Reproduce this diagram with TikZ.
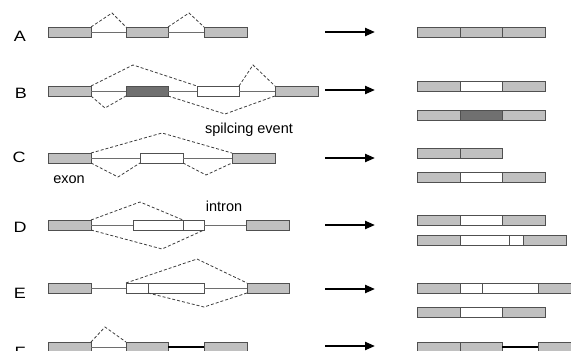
\documentclass[tikz,border=0pt]{standalone}
\usepackage{fontspec}
\setmainfont{Liberation Sans}
\usetikzlibrary{arrows.meta}
\definecolor{exongray}{RGB}{192,192,192}
\definecolor{exondark}{RGB}{112,112,112}
\definecolor{edgegray}{RGB}{80,80,80}
\definecolor{introngray}{RGB}{110,110,110}
\definecolor{splicegray}{RGB}{60,60,60}
\tikzset{
  exon/.style={draw=edgegray, line width=1pt, fill=exongray, minimum height=10pt,
    minimum width=#1, inner sep=0pt, outer sep=0pt, anchor=west},
  darkexon/.style={exon=#1, fill=exondark},
  altexon/.style={exon=#1, fill=white},
  intron/.style={draw=introngray, line width=0.9pt},
  boldintron/.style={draw=black, line width=1.3pt},
  splice/.style={draw=splicegray, line width=0.8pt, dash pattern=on 3pt off 2pt},
  flow/.style={line width=2.2pt, -{Triangle[length=10pt,width=8pt]}},
  rowlabel/.style={font=\fontsize{15}{15}\selectfont, xscale=1.2, inner sep=0pt},
  note/.style={font=\fontsize{14.5}{15}\selectfont, inner sep=0pt}
}
\begin{document}
\begin{tikzpicture}[x=1pt, y=-1pt]
\useasboundingbox (0,0) rectangle (571,351);
\clip (0,0) rectangle (571,351);

% row labels
\node[rowlabel] (lA) at (20,36) {A};
\node[rowlabel] (lB) at (21,93) {B};
\node[rowlabel] (lC) at (19,157) {C};
\node[rowlabel] (lD) at (20,227) {D};
\node[rowlabel] (lE) at (20,293) {E};
\node[rowlabel] (lF) at (20,352) {F};

% annotations
\node[note] (tev) at (249,130) {spilcing event};
\node[note] (tex) at (69,180) {exon};
\node[note] (tin) at (224,206) {intron};

% ---- A: constitutive exons
\node[exon=43pt] (a1) at (48,32) {};
\node[exon=42pt] (a2) at (126,32) {};
\node[exon=43pt] (a3) at (204,32) {};
\draw[intron] (a1.east) -- (a2.west);
\draw[intron] (a2.east) -- (a3.west);
\coordinate (pa1) at (112,13);
\coordinate (pa2) at (189,13);
\draw[splice] (a1.north east) -- (pa1) -- (a2.north west);
\draw[splice] (a2.north east) -- (pa2) -- (a3.north west);

% ---- B: mutually exclusive exons
\node[exon=43pt] (b1) at (48,91) {};
\node[darkexon=42pt] (b2) at (126,91) {};
\node[altexon=42pt] (b3) at (197,91) {};
\node[exon=43pt] (b4) at (275,91) {};
\draw[intron] (b1.east) -- (b2.west);
\draw[intron] (b2.east) -- (b3.west);
\draw[intron] (b3.east) -- (b4.west);
\coordinate (pb1) at (133,65);
\coordinate (pb2) at (105,108);
\coordinate (pb3) at (225,114);
\coordinate (pb4) at (253,65);
\draw[splice] (b1.north east) -- (pb1) -- (b3.north west);
\draw[splice] (b1.south east) -- (pb2) -- (b2.south west);
\draw[splice] (b2.south east) -- (pb3) -- (b4.south west);
\draw[splice] (b3.north east) -- (pb4) -- (b4.north west);

% ---- C: cassette exon
\node[exon=43pt] (c1) at (48,158) {};
\node[altexon=43pt] (c2) at (140,158) {};
\node[exon=43pt] (c3) at (232,158) {};
\draw[intron] (c1.east) -- (c2.west);
\draw[intron] (c2.east) -- (c3.west);
\coordinate (pc1) at (162,133);
\coordinate (pc2) at (118,177);
\coordinate (pc3) at (206,175);
\draw[splice] (c1.north east) -- (pc1) -- (c3.north west);
\draw[splice] (c1.south east) -- (pc2) -- (c2.south west);
\draw[splice] (c2.south east) -- (pc3) -- (c3.south west);

% ---- D: alternative 5' end
\node[exon=43pt] (d1) at (48,225) {};
\node[altexon=50pt] (d2) at (133,225) {};
\node[altexon=21pt] (d3) at (183,225) {};
\node[exon=43pt] (d4) at (246,225) {};
\draw[intron] (d1.east) -- (d2.west);
\draw[intron] (d3.east) -- (d4.west);
\coordinate (pd1) at (140,202);
\coordinate (pd2) at (162,249);
\draw[splice] (d1.north east) -- (pd1) -- (d2.north east);
\draw[splice] (d1.south east) -- (pd2) -- (d3.south east);

% ---- E: alternative 3' end
\node[exon=43pt] (e1) at (48,288) {};
\node[altexon=22pt] (e2) at (126,288) {};
\node[altexon=56pt] (e3) at (148,288) {};
\node[exon=42pt] (e4) at (247,288) {};
\draw[intron] (e1.east) -- (e2.west);
\draw[intron] (e3.east) -- (e4.west);
\coordinate (pe1) at (197,259);
\coordinate (pe2) at (204,307);
\draw[splice] (e2.north west) -- (pe1) -- (e4.north west);
\draw[splice] (e3.south west) -- (pe2) -- (e4.south west);

% ---- F: retained intron
\node[exon=43pt] (f1) at (48,347) {};
\node[exon=42pt] (f2) at (126,347) {};
\node[exon=43pt] (f3) at (204,347) {};
\draw[intron] (f1.east) -- (f2.west);
\draw[boldintron] (f2.east) -- (f3.west);
\coordinate (pf1) at (105,327);
\draw[splice] (f1.north east) -- (pf1) -- (f2.north west);

% ---- arrows
\foreach \r/\y in {A/32, B/90, C/158, D/225, E/289, F/346} {
  \coordinate (s\r) at (325,\y);
  \coordinate (t\r) at (375,\y);
  \draw[flow] (s\r) -- (t\r);
}

% ---- mature transcripts
\node[exon=43pt] (ra1) at (417,32) {};
\node[exon=42pt] (ra2) at (ra1.east) {};
\node[exon=43pt] (ra3) at (ra2.east) {};

\node[exon=43pt] (rb1) at (417,86) {};
\node[altexon=42pt] (rb2) at (rb1.east) {};
\node[exon=43pt] (rb3) at (rb2.east) {};
\node[exon=43pt] (rb4) at (417,115) {};
\node[darkexon=42pt] (rb5) at (rb4.east) {};
\node[exon=43pt] (rb6) at (rb5.east) {};

\node[exon=43pt] (rc1) at (417,153) {};
\node[exon=42pt] (rc2) at (rc1.east) {};
\node[exon=43pt] (rc3) at (417,177) {};
\node[altexon=42pt] (rc4) at (rc3.east) {};
\node[exon=43pt] (rc5) at (rc4.east) {};

\node[exon=43pt] (rd1) at (417,220) {};
\node[altexon=42pt] (rd2) at (rd1.east) {};
\node[exon=43pt] (rd3) at (rd2.east) {};
\node[exon=43pt] (rd4) at (417,240) {};
\node[altexon=49pt] (rd5) at (rd4.east) {};
\node[altexon=14pt] (rd6) at (rd5.east) {};
\node[exon=43pt] (rd7) at (rd6.east) {};

\node[exon=43pt] (re1) at (417,288) {};
\node[altexon=22pt] (re2) at (re1.east) {};
\node[altexon=56pt] (re3) at (re2.east) {};
\node[exon=43pt] (re4) at (re3.east) {};
\node[exon=43pt] (re5) at (417,312) {};
\node[altexon=42pt] (re6) at (re5.east) {};
\node[exon=43pt] (re7) at (re6.east) {};

\node[exon=43pt] (rf1) at (417,347) {};
\node[exon=42pt] (rf2) at (rf1.east) {};
\node[exon=43pt] (rf3) at (538,347) {};
\draw[boldintron] (rf2.east) -- (rf3.west);
\end{tikzpicture}
\end{document}
